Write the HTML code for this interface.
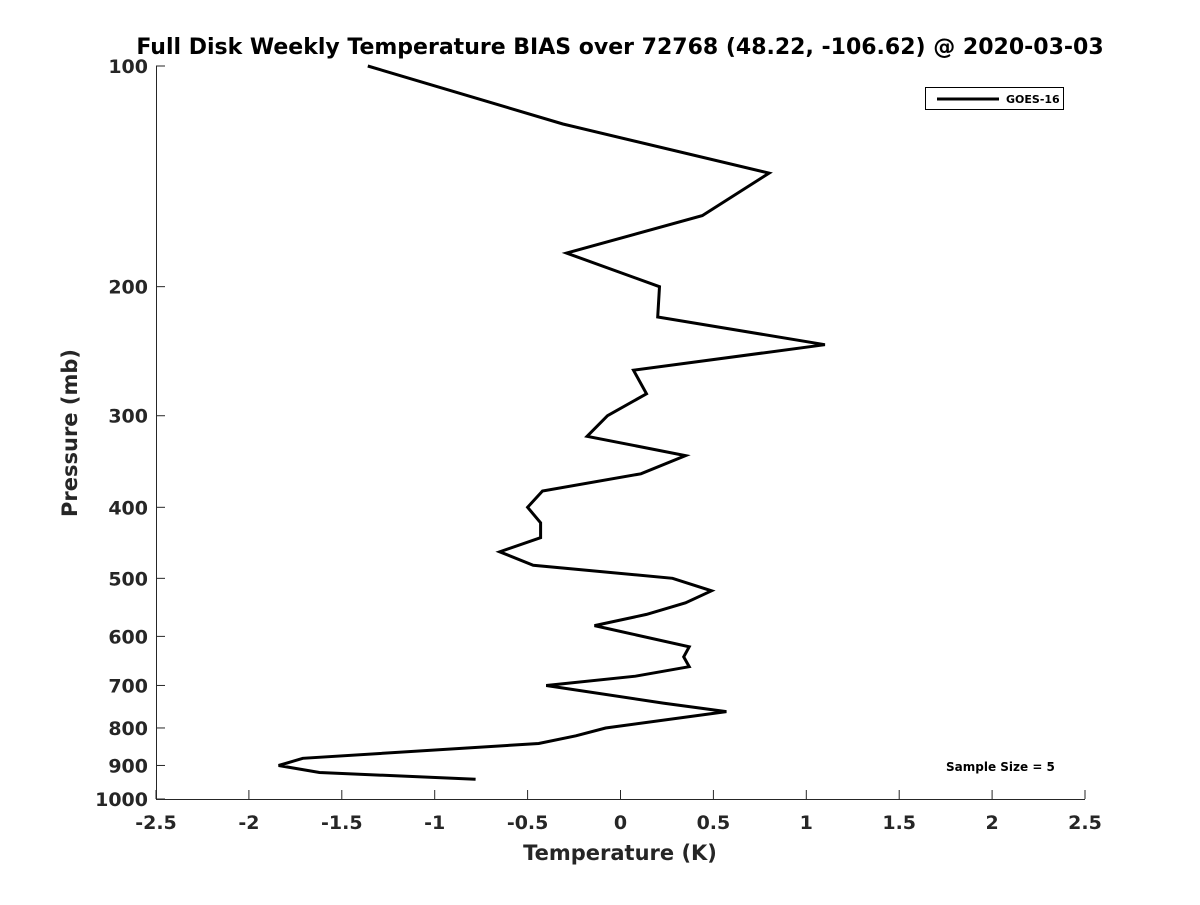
<!DOCTYPE html>
<html><head><meta charset="utf-8"><style>
body{margin:0;background:#fff;}
svg text{font-family:"DejaVu Sans","Liberation Sans",sans-serif;font-weight:bold;fill:#262626;}
</style></head><body>
<svg id="chart" width="1200" height="900" xmlns="http://www.w3.org/2000/svg">
<text x="620" y="54" font-size="22" text-anchor="middle" style="fill:#000">Full Disk Weekly Temperature BIAS over 72768 (48.22, -106.62) @ 2020-03-03</text>
<g id="axes"></g>
<path id="profile" fill="none" stroke="#000" stroke-width="3" stroke-linejoin="miter"></path>
<g>
<rect x="925.5" y="87.5" width="138" height="22" fill="#fff" stroke="#000" stroke-width="1"/>
<line x1="937" y1="99" x2="999" y2="99" stroke="#000" stroke-width="3"/>
<text x="1006" y="103" font-size="11" style="fill:#000">GOES-16</text>
</g>
<text x="946" y="771" font-size="12" style="fill:#000">Sample Size = 5</text>
<text x="620" y="860" font-size="21" text-anchor="middle">Temperature (K)</text>
<text transform="translate(77,433) rotate(-90)" font-size="21" text-anchor="middle">Pressure (mb)</text>
</svg>
<script>
const temps=[-1.36,-0.31,0.80,0.44,-0.29,0.21,0.20,1.10,0.07,0.14,-0.07,-0.18,0.35,0.11,-0.42,-0.50,-0.43,-0.43,-0.65,-0.47,0.28,0.49,0.35,0.14,-0.14,0.37,0.34,0.37,0.08,-0.40,0.23,0.57,-0.08,-0.24,-0.44,-1.71,-1.84,-1.62,-0.78];
const pressures=[100,120,140,160,180,200,220,240,260,280,300,320,340,360,380,400,420,440,460,480,500,520,540,560,580,620,640,660,680,700,740,760,800,820,840,880,900,920,940];
const xTicks=[-2.5,-2,-1.5,-1,-0.5,0,0.5,1,1.5,2,2.5];
const yTicks=[100,200,300,400,500,600,700,800,900,1000];
const L=156,R=1085,T=66,B=799;
function xs(v){return L+(v+2.5)/5*(R-L);}
function ys(p){return T+(Math.log10(p)-2)*(B-T);}
const ns="http://www.w3.org/2000/svg";
const ax=document.getElementById('axes');
function mk(tag,attrs){const e=document.createElementNS(ns,tag);for(const k in attrs)e.setAttribute(k,attrs[k]);ax.appendChild(e);return e;}
let e=mk('line',{x1:L,y1:B+0.5,x2:R,y2:B+0.5,stroke:'#262626','stroke-width':1});


e=mk('line',{x1:L+0.5,y1:T,x2:L+0.5,y2:B,stroke:'#262626','stroke-width':1});


xTicks.forEach(v=>{const x=xs(v);
mk('line',{x1:x,y1:B,x2:x,y2:B-9,stroke:'#262626'});
const t=mk('text',{x:x,y:B+30,'font-size':19,'text-anchor':'middle'});t.textContent=String(v);

});
yTicks.forEach(p=>{const y=ys(p);
mk('line',{x1:L,y1:y,x2:L+9,y2:y,stroke:'#262626'});
const t=mk('text',{x:L-8,y:y+7,'font-size':19,'text-anchor':'end'});t.textContent=String(p);

});
document.getElementById('profile').setAttribute('d',temps.map((v,i)=>(i?'L':'M')+xs(v).toFixed(1)+','+ys(pressures[i]).toFixed(1)).join(''));
</script>
</body></html>
